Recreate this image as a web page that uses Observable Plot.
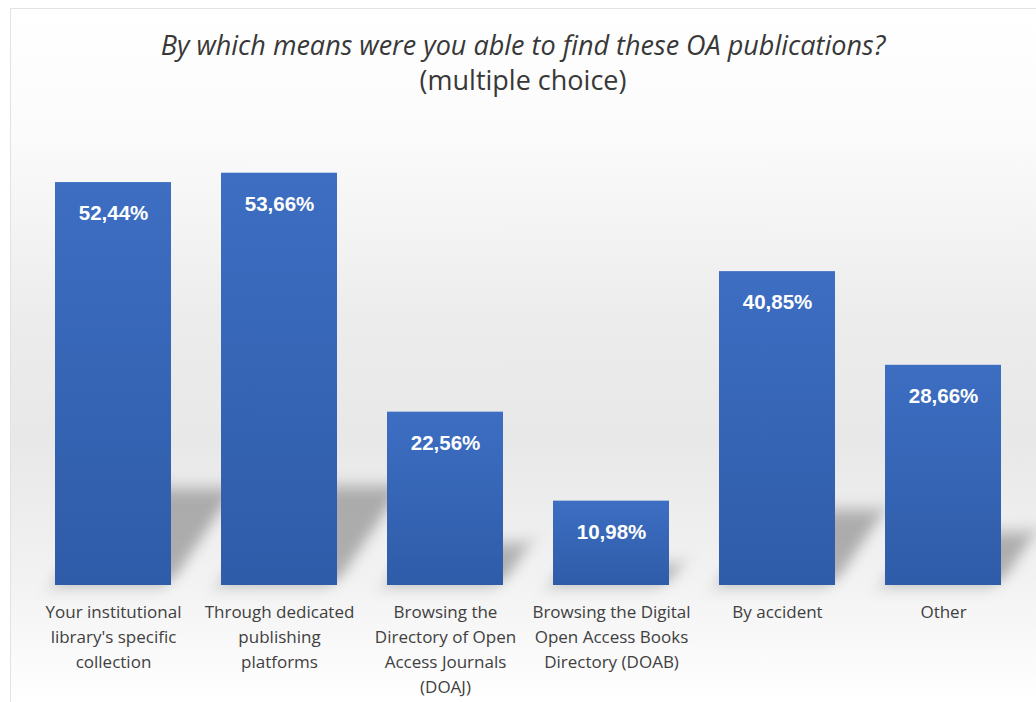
<!DOCTYPE html>
<html>
<head>
<meta charset="utf-8">
<script src="https://cdn.jsdelivr.net/npm/d3@7"></script>
<script src="https://cdn.jsdelivr.net/npm/@observablehq/plot@0.6"></script>
<style>
  html, body { margin: 0; padding: 0; background: #ffffff; }
  #page { position: relative; width: 1036px; height: 702px; overflow: hidden; background: #ffffff; }
  #frame {
    position: absolute; left: 10px; top: 8px; width: 1026px; height: 694px;
    border-top: 1px solid #e2e2e2; border-left: 1px solid #e2e2e2;
    background: linear-gradient(to bottom, #ffffff 0%, #fbfbfb 18%, #ececec 45%, #e8e8e8 62%, #f2f2f2 82%, #ffffff 100%);
  }
  #title {
    position: absolute; left: 10px; top: 27px; width: 1026px; text-align: center;
    font-family: "Open Sans", sans-serif; font-size: 27px; line-height: 35px; color: #383838;
  }
  #title .main { font-style: italic; }
  #chart { position: absolute; left: 0; top: 100px; }
</style>
</head>
<body>
<div id="page">
  <div id="frame"></div>
  <div id="title"><div class="main">By which means were you able to find these OA publications?</div><div class="sub">(multiple choice)</div></div>
  <div id="chart"></div>
</div>
<script>
const categories = [
  "Your institutional library's specific collection",
  "Through dedicated publishing platforms",
  "Browsing the Directory of Open Access Journals (DOAJ)",
  "Browsing the Digital Open Access Books Directory (DOAB)",
  "By accident",
  "Other"
];
const tickLabels = [
  "Your institutional\nlibrary's specific\ncollection",
  "Through dedicated\npublishing\nplatforms",
  "Browsing the\nDirectory of Open\nAccess Journals\n(DOAJ)",
  "Browsing the Digital\nOpen Access Books\nDirectory (DOAB)",
  "By accident",
  "Other"
];
const values = [52.44, 53.66, 22.56, 10.98, 40.85, 28.66];

const data = categories.map((c, i) => ({
  category: c,
  label: tickLabels[i],
  value: values[i],
  valueText: values[i].toFixed(2).replace(".", ",") + "%"
}));

const chart = Plot.plot({
  width: 1036,
  height: 602,
  marginLeft: 30,
  marginRight: 10,
  marginTop: 24,
  marginBottom: 117,
  style: { background: "transparent", overflow: "visible" },
  x: { domain: categories, paddingInner: 0.3, paddingOuter: 0.15, axis: null },
  y: { domain: [0, 60], axis: null },
  marks: [
    // soft cast shadows (skewed and blurred after rendering)
    Plot.barY(data, { x: "category", y: d => d.value * 0.24, fill: "#000000", fillOpacity: 0.28 }),
    Plot.barY(data, { x: "category", y: "value", fill: "url(#barGrad)" }),
    Plot.text(data, {
      x: "category", y: "value", text: "valueText", dy: 31,
      fill: "#ffffff", fontWeight: "bold", fontSize: 20.5,
      fontFamily: "Liberation Sans, Arial, sans-serif"
    }),
    Plot.text(data, {
      x: "category", text: "label", frameAnchor: "bottom", lineAnchor: "top",
      dy: 15, lineHeight: 1.47, fontSize: 17, fill: "#404040",
      fontFamily: "Open Sans, sans-serif"
    })
  ]
});

d3.select(chart).insert("defs", ":first-child").html(
  '<linearGradient id="barGrad" x1="0" y1="0" x2="0" y2="1">' +
  '<stop offset="0%" stop-color="#3d6ec2"/>' +
  '<stop offset="100%" stop-color="#2f5ca9"/>' +
  '</linearGradient>' +
  '<filter id="shadowBlur" x="-50%" y="-50%" width="200%" height="200%">' +
  '<feGaussianBlur stdDeviation="8"/>' +
  '</filter>'
);

const base = 602 - 117;
const shadow = d3.select(chart).select('g[aria-label="bar"]');
shadow.attr("filter", "url(#shadowBlur)");
const wrap = d3.select(chart).insert("g", () => shadow.node());
wrap.attr("transform", `translate(0,${base - 2}) skewX(-34) translate(0,${-(base - 2)})`);
wrap.node().appendChild(shadow.node());

document.getElementById("chart").appendChild(chart);
</script>
</body>
</html>
